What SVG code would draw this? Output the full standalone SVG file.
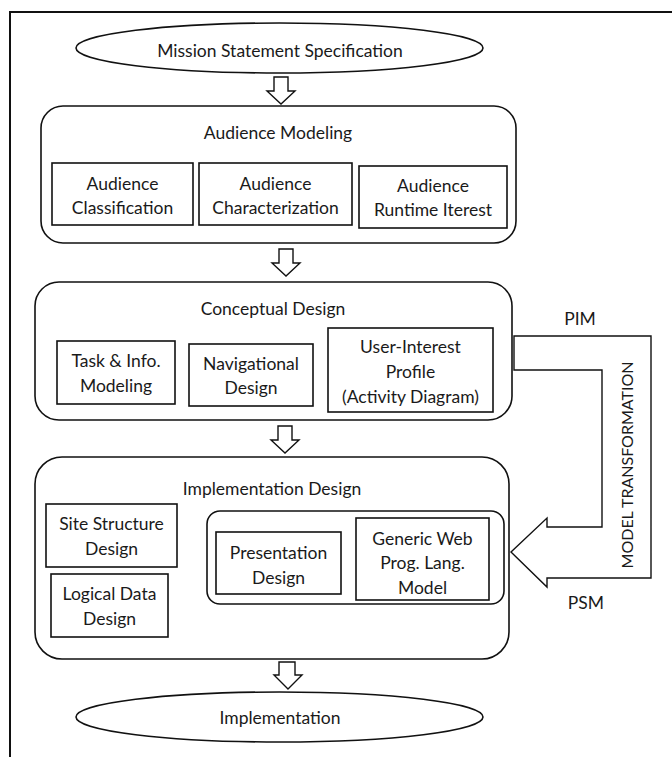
<svg xmlns="http://www.w3.org/2000/svg" width="672" height="757" viewBox="0 0 672 757">
<style>
  .t { font-family: Lato, "Open Sans", "DejaVu Sans", sans-serif; font-size: 17.5px; fill: #1a1a1a; text-anchor: middle; dominant-baseline: central; }
  .caps { font-size: 16px; }
  .box { fill: #fff; stroke: #111; stroke-width: 1.6; }
  .rbox { fill: #fff; stroke: #111; stroke-width: 1.6; }
  .arr { fill: #fff; stroke: #111; stroke-width: 1.4; stroke-linejoin: miter; }
  .frame { fill: none; stroke: #111; stroke-width: 2; }
</style>
<rect width="672" height="757" fill="#fff"/>
<path class="frame" d="M10,757 L10,12 L672,12"/>

<g id="mission">
  <ellipse class="box" cx="279.5" cy="48" rx="203.5" ry="25"/>
  <text class="t" x="280" y="50">Mission Statement Specification</text>
</g>

<g id="audience-modeling">
  <rect class="rbox" x="41" y="106" width="475" height="137" rx="22" ry="22"/>
  <text class="t" x="278" y="132">Audience Modeling</text>
  <g id="audience-classification">
    <rect class="box" x="52" y="163" width="141" height="62"/>
    <text class="t" x="122.5" y="183">Audience</text>
    <text class="t" x="122.5" y="207">Classification</text>
  </g>
  <g id="audience-characterization">
    <rect class="box" x="199" y="163" width="153" height="62"/>
    <text class="t" x="275.5" y="183">Audience</text>
    <text class="t" x="275.5" y="207">Characterization</text>
  </g>
  <g id="audience-runtime">
    <rect class="box" x="359" y="166" width="148" height="62"/>
    <text class="t" x="433" y="185">Audience</text>
    <text class="t" x="433" y="209">Runtime Iterest</text>
  </g>
</g>

<g id="conceptual-design">
  <rect class="rbox" x="35" y="282" width="477" height="138" rx="24" ry="24"/>
  <text class="t" x="273" y="308">Conceptual Design</text>
  <g id="task-info">
    <rect class="box" x="57" y="341" width="118" height="63"/>
    <text class="t" x="116" y="360">Task &amp; Info.</text>
    <text class="t" x="116" y="385">Modeling</text>
  </g>
  <g id="navigational">
    <rect class="box" x="189" y="344" width="124" height="62"/>
    <text class="t" x="251" y="363">Navigational</text>
    <text class="t" x="251" y="387">Design</text>
  </g>
  <g id="user-interest">
    <rect class="box" x="328" y="328" width="165" height="84"/>
    <text class="t" x="410.5" y="346">User-Interest</text>
    <text class="t" x="410.5" y="371">Profile</text>
    <text class="t" x="410.5" y="396">(Activity Diagram)</text>
  </g>
</g>

<g id="implementation-design">
  <rect class="rbox" x="35" y="457" width="474" height="202" rx="27" ry="27"/>
  <text class="t" x="272" y="488">Implementation Design</text>
  <g id="site-structure">
    <rect class="box" x="46" y="504" width="131" height="63"/>
    <text class="t" x="111.5" y="523">Site Structure</text>
    <text class="t" x="111.5" y="548">Design</text>
  </g>
  <g id="logical-data">
    <rect class="box" x="51" y="574" width="117" height="63"/>
    <text class="t" x="109.5" y="593">Logical Data</text>
    <text class="t" x="109.5" y="618">Design</text>
  </g>
  <g id="platform-group">
    <rect class="rbox" x="207" y="511" width="297" height="93" rx="13" ry="13"/>
    <g id="presentation">
      <rect class="box" x="216" y="532" width="125" height="62"/>
      <text class="t" x="278.5" y="552">Presentation</text>
      <text class="t" x="278.5" y="577">Design</text>
    </g>
    <g id="generic-web">
      <rect class="box" x="356" y="518" width="133" height="82"/>
      <text class="t" x="422.5" y="538">Generic Web</text>
      <text class="t" x="422.5" y="562">Prog. Lang.</text>
      <text class="t" x="422.5" y="587">Model</text>
    </g>
  </g>
</g>

<g id="implementation">
  <ellipse class="box" cx="279.5" cy="717" rx="203.5" ry="25"/>
  <text class="t" x="280" y="717">Implementation</text>
</g>

<g id="connectors">
  <path class="arr" d="M274,77 L288,77 L288,91 L295,91 L281,104 L267,91 L274,91 Z"/>
  <path class="arr" d="M279,249 L293,249 L293,263 L300,263 L286,276 L272,263 L279,263 Z"/>
  <path class="arr" d="M278,426 L292,426 L292,440 L299,440 L285,453 L271,440 L278,440 Z"/>
  <path class="arr" d="M279,662 L295,662 L295,675 L302,675 L288,689 L274,675 L279,675 Z"/>
  <path class="arr" d="M514,336 L651,336 L651,578 L547,578 L547,587 L511,552 L547,518 L547,527 L602,527 L602,370 L514,370 Z"/>
  <text class="t" x="580" y="318">PIM</text>
  <text class="t" x="586" y="602">PSM</text>
  <text class="t caps" transform="translate(626,465) rotate(-90)" x="0" y="0">MODEL TRANSFORMATION</text>
</g>
</svg>
